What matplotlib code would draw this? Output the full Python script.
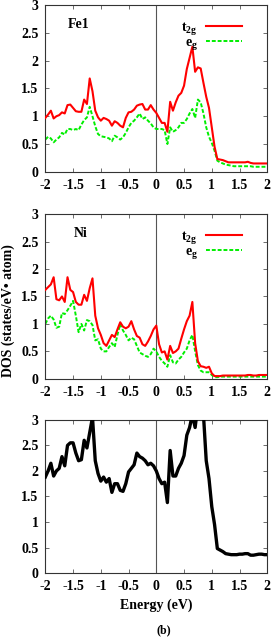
import numpy as np
import matplotlib
matplotlib.use("Agg")
import matplotlib.pyplot as plt

plt.rcParams["font.family"] = ["Liberation Serif", "DejaVu Serif"]
plt.rcParams["font.weight"] = "bold"
plt.rcParams["mathtext.fontset"] = "custom"
plt.rcParams["mathtext.rm"] = "Liberation Serif:bold"
plt.rcParams["mathtext.it"] = "Liberation Serif:bold"
plt.rcParams["mathtext.bf"] = "Liberation Serif:bold"

# ===== データ (エネルギーグリッド -2..2 eV, 0.05 刻み) =====
energy = np.round(np.arange(-2.0, 2.0001, 0.05), 2)

fe_t2g = [0.97, 1.03, 1.10, 0.96, 1.00, 1.02, 1.07, 1.05, 1.20, 1.21,
          1.15, 1.09, 1.08, 1.08, 1.30, 1.22, 1.68, 1.45, 1.10, 0.98,
          0.92, 0.97, 0.95, 0.92, 0.83, 0.91, 0.88, 0.83, 0.80, 0.97,
          1.07, 1.08, 1.12, 1.19, 1.21, 1.22, 1.12, 1.12, 1.20, 1.12,
          1.06, 0.97, 0.88, 0.88, 0.72, 1.26, 1.10, 1.25, 1.37, 1.42,
          1.55, 1.85, 2.05, 2.25, 1.80, 1.88, 1.86, 1.60, 1.35, 1.15,
          0.80, 0.45, 0.23, 0.22, 0.21, 0.19, 0.17, 0.17, 0.17, 0.17,
          0.17, 0.17, 0.17, 0.18, 0.16, 0.15, 0.15, 0.15, 0.15, 0.15, 0.15]
fe_eg = [0.58, 0.63, 0.60, 0.53, 0.58, 0.62, 0.70, 0.67, 0.77, 0.77,
         0.75, 0.77, 0.75, 0.85, 0.93, 0.98, 1.17, 1.00, 0.82, 0.68,
         0.64, 0.63, 0.62, 0.60, 0.55, 0.65, 0.62, 0.58, 0.62, 0.70,
         0.80, 0.88, 0.92, 0.98, 1.05, 0.95, 0.98, 0.92, 0.87, 0.80,
         0.77, 0.77, 0.77, 0.75, 0.50, 0.80, 0.72, 0.75, 0.80, 0.88,
         0.88, 0.95, 1.05, 1.13, 0.97, 1.30, 1.25, 1.05, 0.80, 0.63,
         0.52, 0.38, 0.20, 0.17, 0.15, 0.13, 0.12, 0.11, 0.10, 0.10,
         0.10, 0.10, 0.10, 0.10, 0.10, 0.09, 0.09, 0.09, 0.09, 0.09, 0.09]

ni_t2g = [1.62, 1.67, 1.72, 1.85, 1.45, 1.43, 1.50, 1.40, 1.85, 1.62,
          1.58, 1.40, 1.35, 1.35, 1.53, 1.42, 1.65, 1.83, 1.15, 0.92,
          0.80, 0.65, 0.60, 0.70, 0.80, 0.76, 0.90, 1.03, 0.95, 0.92,
          0.95, 1.05, 0.90, 0.78, 0.75, 0.63, 0.60, 0.68, 0.78, 0.90,
          0.97, 0.63, 0.48, 0.50, 0.35, 0.60, 0.47, 0.50, 0.55, 0.73,
          0.90, 1.05, 1.15, 1.40, 0.65, 0.32, 0.23, 0.22, 0.20, 0.22,
          0.10, 0.05, 0.05, 0.05, 0.06, 0.06, 0.06, 0.06, 0.06, 0.06,
          0.06, 0.06, 0.06, 0.07, 0.07, 0.06, 0.06, 0.07, 0.07, 0.07, 0.07]
ni_eg = [1.00, 1.10, 1.15, 1.08, 0.93, 0.95, 1.20, 1.18, 1.25, 1.33,
         1.42, 1.15, 0.85, 1.00, 0.88, 1.07, 1.05, 0.98, 0.70, 0.72,
         0.55, 0.50, 0.50, 0.58, 0.65, 0.58, 0.80, 1.00, 0.88, 0.80,
         0.70, 0.75, 0.72, 0.60, 0.48, 0.45, 0.42, 0.40, 0.45, 0.55,
         0.50, 0.40, 0.33, 0.28, 0.22, 0.43, 0.30, 0.28, 0.35, 0.40,
         0.48, 0.55, 0.70, 0.80, 0.50, 0.25, 0.15, 0.12, 0.12, 0.12,
         0.07, 0.03, 0.03, 0.04, 0.04, 0.04, 0.04, 0.04, 0.04, 0.04,
         0.04, 0.04, 0.04, 0.04, 0.04, 0.04, 0.04, 0.04, 0.04, 0.04, 0.04]

total = [1.88, 2.00, 2.15, 1.90, 2.00, 2.05, 2.28, 2.10, 2.50, 2.55,
         2.55, 2.35, 2.20, 2.22, 2.60, 2.45, 2.75, 3.05, 2.20, 1.95,
         1.80, 1.88, 1.78, 1.85, 1.58, 1.75, 1.75, 1.62, 1.60, 1.75,
         1.98, 2.05, 2.12, 2.35, 2.28, 2.25, 2.20, 2.12, 2.15, 2.10,
         2.00, 1.85, 1.75, 1.78, 1.38, 2.40, 1.90, 1.90, 2.05, 2.15,
         2.30, 2.70, 2.85, 3.10, 2.85, 3.30, 3.40, 3.10, 2.20, 1.85,
         1.30, 0.95, 0.48, 0.45, 0.42, 0.38, 0.37, 0.36, 0.36, 0.36,
         0.37, 0.37, 0.38, 0.38, 0.35, 0.35, 0.36, 0.37, 0.37, 0.36, 0.36]

xticks = [-2, -1.5, -1, -0.5, 0, 0.5, 1, 1.5, 2]
xticklabels = ["-2", "-1.5", "-1", "-0.5", "0", "0.5", "1", "1.5", "2"]
yticks = [0, 0.5, 1, 1.5, 2, 2.5, 3]
yticklabels = ["0", "0.5", "1", "1.5", "2", "2.5", "3"]

FS = 10
RED = "#ff0000"
GREEN = "#00ee00"

fig = plt.figure(figsize=(2.73, 6.41), dpi=100)
ax1 = fig.add_axes([0.166, 0.732, 0.813, 0.260])
ax2 = fig.add_axes([0.166, 0.409, 0.813, 0.257])
ax3 = fig.add_axes([0.166, 0.106, 0.813, 0.239])


def _style(ax):
    ax.set_xlim(-2, 2)
    ax.set_ylim(0, 3)
    ax.set_xticks(xticks)
    ax.set_xticklabels(xticklabels, fontsize=FS, fontweight="bold")
    ax.set_yticks(yticks)
    ax.set_yticklabels(yticklabels, fontsize=FS, fontweight="bold")
    ax.tick_params(direction="in", top=True, right=True, length=3,
                   width=0.6, color="#555555", pad=5)
    for s in ax.spines.values():
        s.set_linewidth(0.8)
        s.set_color("#333333")
    ax.axvline(0, color="#555555", lw=0.8, zorder=1)


for ax, t2g, eg, name, nx in [(ax1, fe_t2g, fe_eg, "Fe1", -1.6),
                              (ax2, ni_t2g, ni_eg, "Ni", -1.48)]:
    _style(ax)
    ax.plot(energy, t2g, color=RED, lw=1.5, label=r"t$_{2g}$", zorder=3)
    ax.plot(energy, eg, color=GREEN, lw=1.4, ls=(0, (2, 1)),
            label=r"e$_{g}$", zorder=2)
    ax.text(nx, 2.65, name, fontsize=FS, fontweight="bold", ha="left", va="center")
    ax.legend(loc="upper right", bbox_to_anchor=(0.955, 1.0),
              frameon=False, markerfirst=False,
              handlelength=2.6, handletextpad=0.6,
              labelspacing=-0.1, borderaxespad=0.7,
              prop={"weight": "bold", "size": FS})

_style(ax3)
ax3.plot(energy, total, color="black", lw=2.4, zorder=3, clip_on=True)
ax3.set_xlabel("Energy (eV)", fontsize=FS, fontweight="bold", labelpad=4)

fig.text(0.03, 0.515, "DOS (states/eV\u2022 atom)", rotation=90,
         fontsize=FS, fontweight="bold", ha="center", va="center")
fig.text(0.60, 0.017, "(b)", fontsize=FS - 1.5, fontweight="bold",
         ha="center", va="center")

fig.savefig("out.png", dpi=100)
